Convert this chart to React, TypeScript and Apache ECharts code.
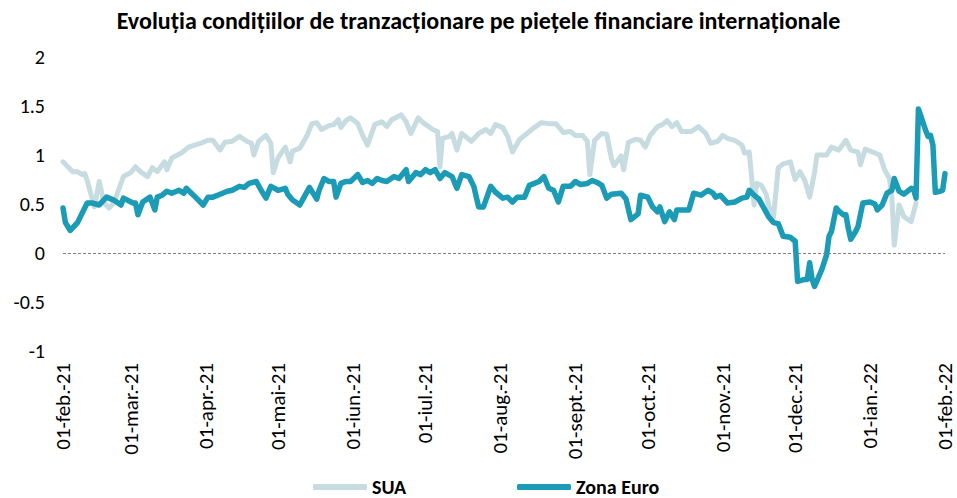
import React, { useEffect, useRef } from "react";
import * as echarts from "echarts";

// Days since 01-feb-2021 and values
const suaDays = [0, 2, 4, 6, 8, 9, 10, 13, 15, 17, 19, 21, 25, 28, 30, 32, 35, 37, 39, 42, 43, 45, 49, 52, 57, 60, 62, 65, 67, 70, 73, 76, 78, 79, 81, 84, 86, 87, 89, 92, 94, 95, 98, 101, 103, 105, 107, 110, 112, 114, 115, 117, 119, 122, 124, 126, 129, 132, 134, 136, 140, 142, 144, 147, 149, 153, 155, 156, 157, 160, 161, 163, 165, 167, 169, 172, 175, 177, 179, 182, 184, 186, 189, 192, 195, 198, 201, 204, 207, 210, 212, 215, 217, 218, 220, 223, 225, 227, 228, 231, 232, 234, 237, 239, 241, 243, 246, 248, 250, 252, 254, 256, 260, 263, 266, 268, 271, 273, 275, 278, 281, 282, 284, 286, 287, 289, 291, 293, 294, 296, 298, 301, 303, 305, 307, 309, 311, 312, 316, 318, 321, 324, 326, 329, 330, 332, 336, 338, 340, 342, 343, 344, 346, 348, 351, 353];
const suaValues = [0.93, 0.88, 0.83, 0.83, 0.8, 0.81, 0.74, 0.47, 0.73, 0.51, 0.46, 0.51, 0.78, 0.82, 0.88, 0.83, 0.78, 0.87, 0.83, 0.93, 0.85, 0.97, 1.02, 1.08, 1.12, 1.15, 1.15, 1.05, 1.13, 1.14, 1.19, 1.14, 1.12, 1.0, 1.14, 1.2, 1.12, 0.82, 0.97, 1.08, 0.93, 1.04, 1.07, 1.2, 1.32, 1.33, 1.26, 1.3, 1.31, 1.36, 1.28, 1.35, 1.38, 1.32, 1.2, 1.1, 1.31, 1.34, 1.29, 1.36, 1.41, 1.34, 1.22, 1.38, 1.33, 1.26, 1.24, 0.88, 1.17, 1.19, 1.22, 1.05, 1.22, 1.18, 1.14, 1.22, 1.26, 1.22, 1.31, 1.28, 1.19, 1.03, 1.16, 1.22, 1.28, 1.33, 1.32, 1.32, 1.23, 1.24, 1.2, 1.2, 1.14, 0.8, 1.15, 1.22, 1.21, 0.96, 0.89, 0.99, 0.85, 1.13, 1.16, 1.15, 1.08, 1.2, 1.29, 1.31, 1.35, 1.29, 1.33, 1.24, 1.24, 1.29, 1.22, 1.12, 1.14, 1.2, 1.17, 1.15, 1.1, 1.02, 1.03, 0.49, 0.71, 0.69, 0.6, 0.39, 0.36, 0.87, 0.91, 0.93, 0.75, 0.83, 0.74, 0.57, 0.82, 1.0, 1.0, 1.08, 1.05, 1.15, 1.05, 1.03, 0.9, 1.06, 1.02, 1.0, 0.85, 0.76, 0.57, 0.08, 0.49, 0.37, 0.32, 0.51];

const euroDays = [0, 1, 3, 6, 10, 12, 15, 18, 21, 24, 25, 29, 30, 31, 33, 36, 38, 39, 41, 43, 45, 48, 50, 51, 54, 58, 60, 62, 64, 68, 70, 73, 75, 77, 80, 82, 84, 86, 89, 92, 93, 95, 98, 100, 102, 105, 106, 108, 110, 112, 113, 115, 117, 119, 122, 124, 126, 128, 130, 132, 134, 137, 139, 142, 143, 146, 148, 150, 152, 154, 156, 158, 161, 163, 165, 168, 170, 172, 174, 177, 179, 182, 184, 186, 188, 191, 193, 197, 199, 201, 203, 205, 207, 210, 212, 214, 217, 219, 221, 223, 225, 227, 231, 233, 235, 238, 239, 242, 244, 246, 247, 249, 251, 253, 254, 256, 259, 261, 264, 267, 269, 270, 272, 275, 278, 281, 283, 284, 286, 288, 290, 292, 294, 296, 298, 301, 303, 304, 307, 308, 309, 310, 311, 314, 316, 317, 318, 320, 321, 323, 324, 325, 326, 328, 329, 331, 334, 336, 337, 339, 341, 343, 344, 346, 348, 351, 352, 353, 354, 355, 357, 358, 359, 360, 361, 363, 364, 365];
const euroValues = [0.46, 0.31, 0.23, 0.31, 0.51, 0.51, 0.49, 0.57, 0.54, 0.49, 0.56, 0.51, 0.51, 0.39, 0.52, 0.57, 0.44, 0.57, 0.59, 0.63, 0.61, 0.64, 0.61, 0.66, 0.59, 0.49, 0.57, 0.57, 0.59, 0.63, 0.64, 0.68, 0.67, 0.71, 0.73, 0.64, 0.56, 0.68, 0.64, 0.66, 0.6, 0.54, 0.49, 0.58, 0.67, 0.55, 0.64, 0.76, 0.73, 0.73, 0.57, 0.71, 0.73, 0.73, 0.8, 0.72, 0.74, 0.71, 0.76, 0.74, 0.73, 0.78, 0.76, 0.85, 0.73, 0.82, 0.8, 0.85, 0.82, 0.85, 0.76, 0.82, 0.78, 0.66, 0.8, 0.78, 0.68, 0.47, 0.47, 0.68, 0.62, 0.56, 0.57, 0.52, 0.57, 0.57, 0.69, 0.73, 0.78, 0.66, 0.64, 0.52, 0.68, 0.68, 0.73, 0.7, 0.71, 0.74, 0.72, 0.69, 0.56, 0.6, 0.61, 0.55, 0.34, 0.4, 0.59, 0.57, 0.47, 0.42, 0.47, 0.32, 0.42, 0.34, 0.44, 0.44, 0.44, 0.61, 0.59, 0.64, 0.61, 0.57, 0.59, 0.51, 0.52, 0.56, 0.57, 0.64, 0.59, 0.55, 0.46, 0.37, 0.31, 0.3, 0.17, 0.16, 0.12, -0.29, -0.27, -0.27, -0.1, -0.27, -0.34, -0.17, -0.02, 0.17, 0.22, 0.46, 0.43, 0.39, 0.39, 0.25, 0.14, 0.22, 0.27, 0.51, 0.52, 0.5, 0.44, 0.49, 0.61, 0.64, 0.76, 0.63, 0.6, 0.66, 0.65, 0.56, 1.47, 1.4, 1.25, 1.19, 1.2, 1.1, 0.62, 0.63, 0.64, 0.81];

const monthNames = ["ian.", "feb.", "mar.", "apr.", "mai", "iun.", "iul.", "aug.", "sept.", "oct.", "nov.", "dec."];
const seriesNames = ["SUA", "Zona Euro"];
const titleText = "Evoluția condițiilor de tranzacționare pe piețele financiare internaționale";

const toTime = (d: number) => new Date(2021, 1, 1 + d).getTime();
const pairs = (days: number[], vals: number[]) => days.map((d, i) => [toTime(d), vals[i]]);

const FONT = "Carlito, Lato, 'Noto Sans', sans-serif";
const legendText = { fontFamily: FONT, fontWeight: "bold", fontSize: 20, color: "#000" };

export default function App() {
  const ref = useRef<HTMLDivElement>(null);
  useEffect(() => {
    if (!ref.current) return;
    const chart = echarts.init(ref.current, null, { renderer: "svg" });
    chart.setOption({
      animation: false,
      title: {
        text: titleText,
        left: "center",
        top: 3,
        textStyle: { fontFamily: FONT, fontWeight: "bold", fontSize: 24, color: "#000" },
      },
      legend: [
        {
          data: [seriesNames[0]],
          left: 313,
          top: 477,
          padding: 0,
          itemWidth: 54,
          itemHeight: 6,
          icon: "roundRect",
          textStyle: legendText,
        },
        {
          data: [seriesNames[1]],
          left: 517,
          top: 477,
          padding: 0,
          itemWidth: 54,
          itemHeight: 6,
          icon: "roundRect",
          textStyle: legendText,
        },
      ],
      grid: { left: 63, right: 12, top: 57, bottom: 147 },
      xAxis: {
        type: "time",
        min: toTime(0),
        max: toTime(365),
        minInterval: 28 * 86400000,
        maxInterval: 31 * 86400000,
        axisLine: { show: false },
        axisTick: { show: false },
        splitLine: { show: false },
        axisLabel: {
          rotate: 90,
          margin: 12,
          fontFamily: FONT,
          fontSize: 21,
          lineHeight: 16,
          color: "#000",
          showMinLabel: true,
          showMaxLabel: true,
          hideOverlap: false,
          formatter: (v: number) => {
            const dt = new Date(v);
            const yy = String(dt.getFullYear()).slice(2);
            return "01-" + monthNames[dt.getMonth()] + "-" + yy;
          },
        },
      },
      yAxis: {
        type: "value",
        min: -1,
        max: 2,
        interval: 0.5,
        axisLine: { show: false },
        axisTick: { show: false },
        splitLine: { show: false },
        axisLabel: { margin: 18, fontFamily: FONT, fontSize: 20, color: "#000" },
      },
      series: [
        {
          name: seriesNames[0],
          type: "line",
          data: pairs(suaDays, suaValues),
          showSymbol: false,
          symbol: "none",
          color: "#c6dce1",
          lineStyle: { width: 5, color: "#c6dce1", cap: "round", join: "round" },
          markLine: {
            silent: true,
            symbol: "none",
            label: { show: false },
            lineStyle: { type: [3, 2], color: "#808080", width: 1 },
            data: [{ yAxis: 0 }],
          },
        },
        {
          name: seriesNames[1],
          type: "line",
          data: pairs(euroDays, euroValues),
          showSymbol: false,
          symbol: "none",
          color: "#1b9bb6",
          lineStyle: { width: 5.5, color: "#1b9bb6", cap: "round", join: "round" },
        },
      ],
    });
    return () => chart.dispose();
  }, []);
  return (
    <div
      ref={ref}
      style={{ position: "fixed", left: 0, top: 0, width: 957, height: 498, background: "#fff" }}
    />
  );
}
